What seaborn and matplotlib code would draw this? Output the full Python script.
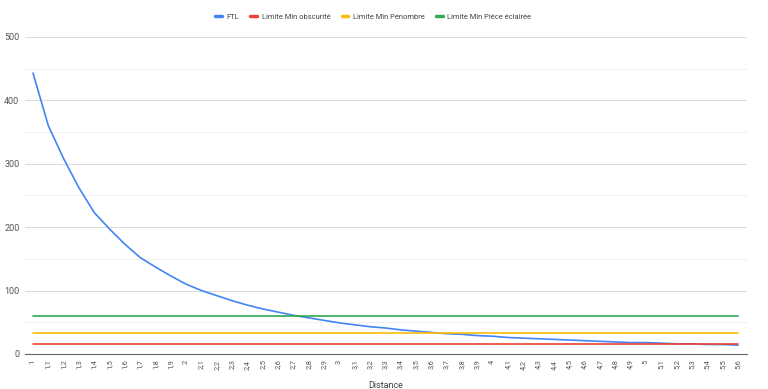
import numpy as np
import pandas as pd
import seaborn as sns
import matplotlib.pyplot as plt

# distances 1.0 .. 5.6
distance = [1.0, 1.1, 1.2, 1.3, 1.4, 1.5, 1.6, 1.7, 1.8, 1.9,
            2.0, 2.1, 2.2, 2.3, 2.4, 2.5, 2.6, 2.7, 2.8, 2.9,
            3.0, 3.1, 3.2, 3.3, 3.4, 3.5, 3.6, 3.7, 3.8, 3.9,
            4.0, 4.1, 4.2, 4.3, 4.4, 4.5, 4.6, 4.7, 4.8, 4.9,
            5.0, 5.1, 5.2, 5.3, 5.4, 5.5, 5.6]
ftl = [443, 360, 308, 262, 223, 197, 173, 152, 137, 123,
       110, 100, 92, 84, 77, 71, 66, 61, 57, 53,
       49, 46, 43, 41, 38, 36, 34, 32, 31, 29,
       28, 26, 25, 24, 23, 22, 21, 20, 19, 18,
       18, 17, 16, 16, 15, 15, 14]
lim_obscurite = 16
lim_penombre = 33
lim_eclairee = 60
series_names = ["FTL", "Limite Min obscurité", "Limite Min Pénombre", "Limite Min Pièce éclairée"]
colors = ["#4285F4", "#EA4335", "#FBBC04", "#34A853"]
tick_labels = [f"{d:g}".replace(".", ",") for d in distance]

n = len(distance)
df = pd.DataFrame({
    "Distance": distance * 4,
    "value": ftl + [lim_obscurite] * n + [lim_penombre] * n + [lim_eclairee] * n,
    "serie": [s for s in series_names for _ in range(n)],
})

sns.set_style("white")
plt.rcParams["font.family"] = ["Roboto", "DejaVu Sans"]

fig = plt.figure(figsize=(7.68, 3.89), dpi=100)
ax = fig.add_axes([0.0326, 0.09, 0.94, 0.815])
sns.lineplot(data=df, x="Distance", y="value", hue="serie", hue_order=series_names,
             palette=colors, linewidth=1.2, ax=ax, legend=False)

ax.set_ylim(0, 500)
ax.set_xlim(1 - 0.052, 5.6 + 0.059)
ax.set_yticks([0, 100, 200, 300, 400, 500])
ax.set_yticks([50, 150, 250, 350, 450], minor=True)
ax.grid(True, which="major", axis="y", color="#dcdcdc", lw=0.8)
ax.grid(True, which="minor", axis="y", color="#f1f1f1", lw=0.8)
ax.set_axisbelow(True)
ax.set_xticks(distance)
ax.set_xticklabels(tick_labels, rotation=90, fontsize=5.3, color="#555555")
ax.tick_params(axis="y", labelsize=6.5, labelcolor="#555555", length=0, pad=4)
ax.tick_params(axis="x", length=0, pad=4)
ax.tick_params(axis="y", which="minor", length=0)
for s in ["left", "right", "top"]:
    ax.spines[s].set_visible(False)
ax.spines["bottom"].set_color("#666666")
ax.spines["bottom"].set_linewidth(0.8)
ax.set_xlabel("Distance", fontsize=6.5, color="#444444", labelpad=8)
ax.set_ylabel("")

handles = [plt.Line2D([], [], color=c, lw=2.5) for c in colors]
fig.legend(handles, series_names, loc="center", bbox_to_anchor=(0.486, 0.956), ncol=4,
           frameon=False, fontsize=5.4, handlelength=0.9, columnspacing=1.5, handletextpad=0.6,
           labelcolor="#444444")

fig.savefig("out.png", dpi=100)
